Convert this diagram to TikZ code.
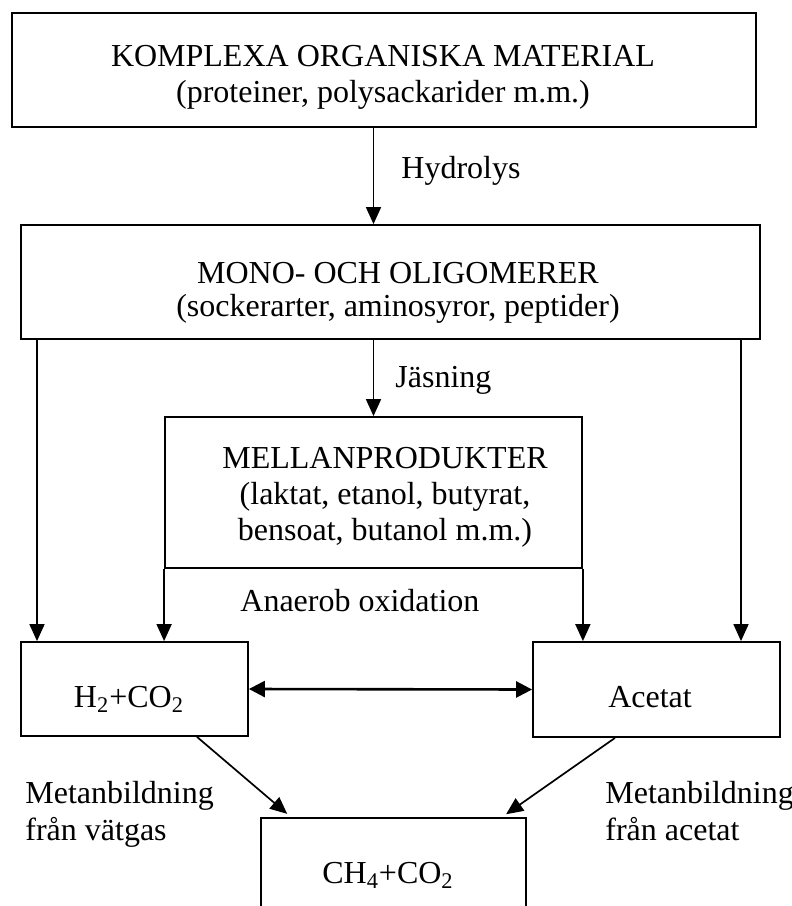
\documentclass[tikz,border=0pt]{standalone}
\usepackage{fontspec}
\setmainfont{Liberation Serif}
\usetikzlibrary{arrows.meta}
\begin{document}
\begin{tikzpicture}[x=0.5pt,y=-0.5pt,
  box/.style={draw, line width=0.9pt, inner sep=0pt},
  txt/.style={inner sep=0pt, align=center, anchor=base,
    font=\fontsize{16}{18}\selectfont},
  lbl/.style={inner sep=0pt, align=left, anchor=base west,
    font=\fontsize{16}{18.5}\selectfont},
  arr/.style={line width=0.85pt, -{Triangle[length=8.5pt,width=7.5pt]}},
  darr/.style={line width=1.3pt, {Triangle[length=8pt,width=8pt]}-{Triangle[length=8pt,width=8pt]}}]
\useasboundingbox (0,0) rectangle (792,906);
\clip (0,0) rectangle (792,906);
\fill[white] (0,0) rectangle (792,906);

% boxes
\node[box, minimum width=372pt, minimum height=57pt] (top) at (384,70) {};
\node[box, minimum width=369.5pt, minimum height=57pt] (mono) at (390.5,282) {};
\node[box, minimum width=208.5pt, minimum height=75.5pt] (mell) at (373.5,492.5) {};
\node[box, minimum width=113.5pt, minimum height=47pt] (h2) at (134.5,689) {};
\node[box, minimum width=123.5pt, minimum height=47.5pt] (acet) at (656.5,689.5) {};
\node[box, minimum width=132.5pt, minimum height=71pt] (ch4) at (393.5,889) {};

% box texts (base anchor = baseline of the last line)
\node[txt] (topt) at (383,102)
  {KOMPLEXA ORGANISKA MATERIAL\\(proteiner, polysackarider m.m.)};
\node[txt, font=\fontsize{16}{16.5}\selectfont] (monot) at (398,316)
  {MONO- OCH OLIGOMERER\\(sockerarter, aminosyror, peptider)};
\node[txt] (mellt) at (385,540)
  {MELLANPRODUKTER\\(laktat, etanol, butyrat,\\bensoat, butanol m.m.)};
\node[txt] (h2t) at (129,707) {H\textsubscript{2}+CO\textsubscript{2}};
\node[txt] (acett) at (650,707) {Acetat};
\node[txt] (ch4t) at (388,883) {CH\textsubscript{4}+CO\textsubscript{2}};

\coordinate (lx) at (37,0);
\coordinate (rx) at (741,0);
\coordinate (a1) at (197,0);
\coordinate (b1) at (291,0);
\coordinate (a2) at (615,0);
\coordinate (b2) at (502,0);

% connectors
\draw[arr] (top.south -| mell.north) -- (mono.north -| mell.north);
\draw[arr] (mono.south -| mell.north) -- (mell.north);
\draw[arr] (mono.south -| lx) -- (h2.north -| lx);
\draw[arr] (mono.south -| rx) -- (acet.north -| rx);
\draw[arr] (mell.south west) -- (mell.south west |- h2.north);
\draw[arr] (mell.south east) -- (mell.south east |- acet.north);
\draw[darr] (h2.east) -- (acet.west);
\draw[arr, shorten >=2.5pt] (h2.south -| a1) -- (ch4.north -| b1);
\draw[arr, shorten >=2.5pt] (acet.south -| a2) -- (ch4.north -| b2);

% labels
\node[lbl] (hyd) at (401,178) {Hydrolys};
\node[lbl] (jas) at (395,387) {Jäsning};
\node[lbl] (ana) at (240,611) {Anaerob oxidation};
\node[lbl] (mv) at (25,840) {Metanbildning\\från vätgas};
\node[lbl] (ma) at (605,840) {Metanbildning\\från acetat};
\end{tikzpicture}
\end{document}
